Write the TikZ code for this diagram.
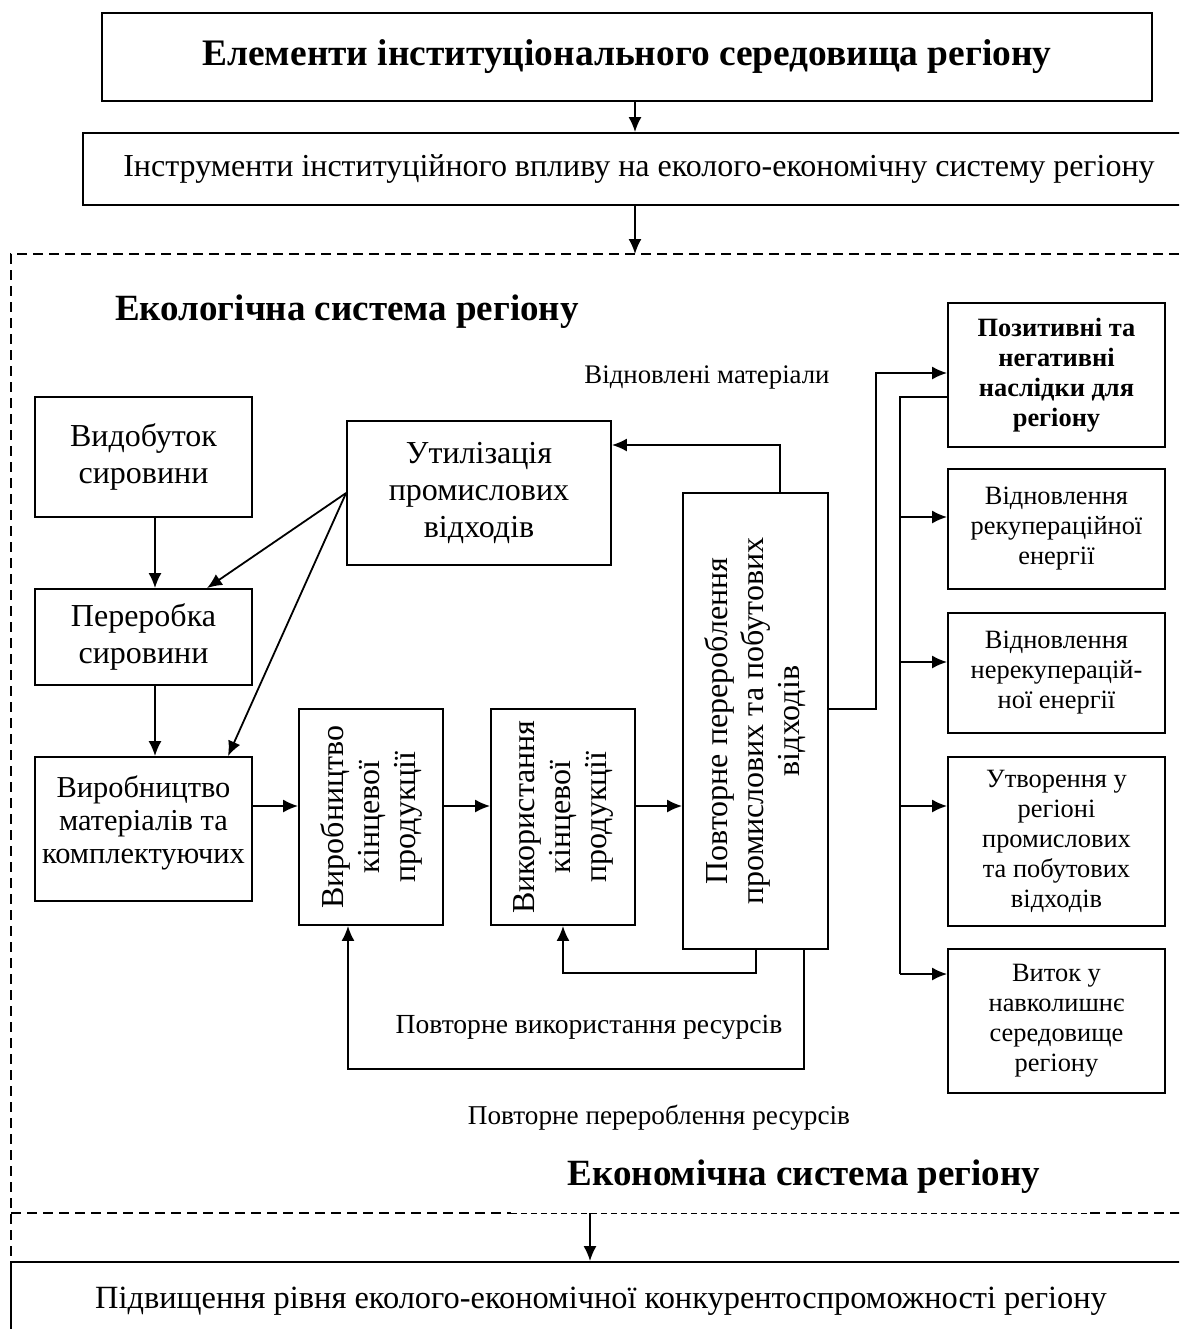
\documentclass[tikz,border=0pt]{standalone}
\usepackage{fontspec}
\setmainfont{Liberation Serif}
\usetikzlibrary{arrows.meta}
\begin{document}
\begin{tikzpicture}[x=0.5pt,y=-0.5pt,
  box/.style={draw, line width=0.9pt, inner sep=2pt, align=center, font=\fontsize{16}{18.5}\selectfont},
  sbox/.style={box, font=\fontsize{13.2}{15}\selectfont},
  rtext/.style={rotate=90, align=center, inner sep=0pt, font=\fontsize{16}{18}\selectfont},
  arr/.style={line width=0.9pt, -{Latex[length=7.5pt,width=6.5pt]}},
  ln/.style={line width=0.9pt},
  frame/.style={line width=0.8pt, dash pattern=on 5pt off 3pt},
  thinframe/.style={line width=0.5pt, dash pattern=on 3pt off 2pt},
  lbl/.style={inner sep=0pt, font=\fontsize{13.4}{15}\selectfont},
  mlbl/.style={inner sep=0pt, font=\fontsize{13.8}{16}\selectfont},
  hlbl/.style={inner sep=0pt, font=\fontsize{18.5}{22}\selectfont\bfseries},
]
\useasboundingbox (0,0) rectangle (1179,1329);
\begin{scope}
\clip (0,0) rectangle (1179,1329);

% top boxes
\node[box, font=\fontsize{18.7}{22}\selectfont\bfseries, minimum width=525pt, minimum height=44pt] (title) at (627,57) {Елементи інституціонального середовища регіону};
\node[box, minimum width=556pt, minimum height=36pt] (instr) at (639,169) {Інструменти інституційного впливу на еколого-економічну систему регіону};

% dashed frame
\draw[frame] (1195,254) -- (11,254) -- (11,1262);
\draw[frame] (11,1213) -- (511,1213);
\draw[thinframe] (511,1213) -- (1090,1213);
\draw[frame] (1090,1213) -- (1195,1213);

\coordinate (ax) at (635,254);
\draw[arr] (title.south -| ax) -- (instr.north -| ax);
\draw[arr] (instr.south -| ax) -- (ax);

% labels
\node[hlbl] (eco) at (347,312) {Екологічна система регіону};
\node[lbl] (vm) at (707,377) {Відновлені матеріали};
\node[mlbl] (pvr) at (589,1027) {Повторне використання ресурсів};
\node[mlbl, font=\fontsize{13.6}{16}\selectfont] (ppr) at (659,1118) {Повторне перероблення ресурсів};
\node[hlbl] (econ) at (804,1177) {Економічна система регіону};

% left column
\node[box, minimum width=108.5pt, minimum height=60pt] (vyd) at (143.5,457) {Видобуток\\сировини};
\node[box, minimum width=108.5pt, minimum height=48pt] (perer) at (143.5,637) {Переробка\\сировини};
\node[box, minimum width=108.5pt, minimum height=72pt] (vmat) at (143.5,829) {};
\node[inner sep=0pt, align=center, font=\fontsize{15.2}{16.5}\selectfont] (vmatt) at (143.5,823) {Виробництво\\матеріалів та\\комплектуючих};

\node[box, minimum width=132pt, minimum height=72pt] (util) at (479,493) {Утилізація\\промислових\\відходів};

% vertical-text boxes
\node[box, minimum width=72pt, minimum height=108pt] (vkin) at (371,817) {};
\node[rtext] (vkint) at (vkin) {Виробництво\\кінцевої\\продукції};
\node[box, minimum width=72pt, minimum height=108pt] (ukin) at (563,817) {};
\node[rtext] (ukint) at (ukin) {Використання\\кінцевої\\продукції};
\node[box, minimum width=72.5pt, minimum height=228pt] (povt) at (755.5,721) {};
\node[rtext] (povtt) at (povt) {Повторне перероблення\\промислових та побутових\\відходів};

% right column
\node[sbox, font=\fontsize{13.2}{15}\selectfont\bfseries, minimum width=108.5pt, minimum height=72pt] (pos) at (1056.5,375) {Позитивні та\\негативні\\наслідки для\\регіону};
\node[sbox, minimum width=108.5pt, minimum height=60pt] (rek) at (1056.5,529) {Відновлення\\рекупераційної\\енергії};
\node[sbox, minimum width=108.5pt, minimum height=60pt] (nerek) at (1056.5,673) {Відновлення\\нерекупера{}цій-\\ної енергії};
\node[sbox, minimum width=108.5pt, minimum height=84.5pt] (utv) at (1056.5,841.5) {Утворення у\\регіоні\\промислових\\та побутових\\відходів};
\node[sbox, minimum width=108.5pt, minimum height=72pt] (vyt) at (1056.5,1021) {Виток у\\навколишнє\\середовище\\регіону};

% bottom box
\node[box, font=\fontsize{16.2}{18.5}\selectfont, minimum width=590pt, minimum height=39pt] (bot) at (601,1301) {Підвищення рівня еколого-економічної конкурентоспроможності регіону};

% connectors
\draw[arr] ([xshift=5.75pt]vyd.south) -- ([xshift=5.75pt]perer.north);
\draw[arr] ([xshift=5.75pt]perer.south) -- ([xshift=5.75pt]vmat.north);
\draw[arr] (util.west) -- ([xshift=31.75pt]perer.north);
\draw[arr] (util.west) -- ([xshift=42.25pt]vmat.north);

\coordinate (hy) at (0,806);
\draw[arr] (vmat.east |- hy) -- (vkin.west |- hy);
\draw[arr] (vkin.east |- hy) -- (ukin.west |- hy);
\draw[arr] (ukin.east |- hy) -- (povt.west |- hy);

\coordinate (rm) at (780,445);
\draw[arr] (povt.north -| rm) -- (rm) -- (util.east |- rm);

\coordinate (j1) at (876,709);
\coordinate (j2) at (876,373);
\draw[arr] (povt.east |- j1) -- (j1) -- (j2) -- (pos.west |- j2);

\coordinate (tr) at (900,397);
\coordinate (b1) at (900,517);
\coordinate (b2) at (900,662);
\coordinate (b3) at (900,806);
\coordinate (b4) at (900,974);
\draw[ln] (pos.west |- tr) -- (tr) -- (b4);
\draw[arr] (b1) -- (rek.west |- b1);
\draw[arr] (b2) -- (nerek.west |- b2);
\draw[arr] (b3) -- (utv.west |- b3);
\draw[arr] (b4) -- (vyt.west |- b4);

\coordinate (l1) at (756,973);
\draw[arr] (povt.south -| l1) |- (ukin.south |- l1) -- (ukin.south);
\coordinate (l2) at (804,1069);
\coordinate (l2e) at (348,1069);
\draw[arr] (povt.south -| l2) -- (l2) -- (l2e) -- (vkin.south -| l2e);

\coordinate (d2) at (590,1213);
\draw[arr] (d2) -- (bot.north -| d2);
\end{scope}
\end{tikzpicture}
\end{document}
